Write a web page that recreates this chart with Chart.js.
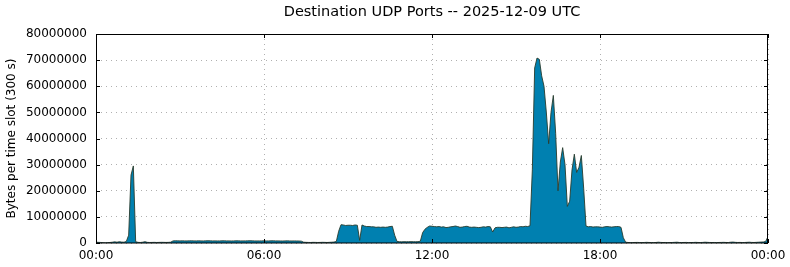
<!DOCTYPE html>
<html>
<head>
<meta charset="utf-8">
<title>Destination UDP Ports</title>
<script src="https://cdn.jsdelivr.net/npm/chart.js@4.4.1/dist/chart.umd.min.js"></script>
<style>
  html, body { margin: 0; padding: 0; background: #fff; }
</style>
</head>
<body>
<canvas id="udpChart" width="790" height="267"></canvas>
<script>
// Bytes per 5-minute slot, 00:00 .. 24:00 (289 points)
const udpBytes = [
  300000, 250000, 200000, 120000, 80000, 150000, 200000, 300000, 450000, 300000,
  500000, 350000, 300000, 600000,
  3000000, 26000000, 29500000, 500000,
  250000, 200000, 300000, 500000, 250000, 200000, 220000, 250000, 200000, 230000,
  260000, 250000, 220000, 240000, 300000,
  800000, 850000, 820000, 800000, 830000, 810000, 790000, 820000, 840000, 800000,
  810000, 830000, 800000, 780000, 820000, 850000, 830000, 800000, 810000, 790000,
  800000, 820000, 840000, 810000, 800000, 780000, 800000, 830000, 820000, 800000,
  790000, 810000, 830000, 850000, 820000, 800000, 780000, 800000, 810000, 830000,
  800000, 790000, 820000, 840000, 810000, 800000, 780000, 760000, 800000, 820000,
  790000, 770000, 800000, 780000, 750000, 700000,
  300000, 250000, 220000, 200000, 250000, 230000, 200000, 220000, 260000, 240000,
  200000, 250000, 300000, 350000,
  600000, 4500000, 7000000, 6900000, 6700000, 6800000, 6800000, 6700000, 6900000, 6800000,
  1000000, 6900000, 6500000, 6300000, 6300000, 6200000, 6200000, 6000000, 6100000, 6000000,
  6100000, 6000000, 6100000, 6300000, 6400000, 3000000, 600000,
  500000, 450000, 500000, 480000, 500000, 520000, 500000, 480000, 500000, 700000,
  4000000, 5300000, 6000000, 6500000,
  6400000, 6300000, 6200000, 6300000, 6100000, 6200000, 5900000, 6000000, 6200000, 6300000,
  6500000, 6300000, 6000000, 6100000, 6300000, 6400000, 6100000, 6000000, 6100000, 6000000,
  5900000, 6000000, 6200000, 6100000, 6300000, 6200000, 4200000, 5800000, 6000000, 6000000,
  5900000, 6000000, 6100000, 5800000, 6000000, 6200000, 6000000, 6100000, 6300000, 6200000,
  6400000, 6300000, 6600000,
  28000000, 67000000, 70800000, 70300000, 64000000, 60000000, 50000000, 38000000, 50000000, 56500000,
  42000000, 20000000, 31000000, 36500000, 30000000, 14000000, 16000000, 28000000, 34000000, 27000000,
  29000000, 33500000, 21000000, 6500000,
  6200000, 6300000, 6100000, 6200000, 6200000, 6100000, 6000000, 6200000, 6300000, 6200000,
  6100000, 6200000, 6300000, 6300000, 6000000,
  2000000, 300000,
  200000, 150000, 180000, 200000, 220000, 180000, 150000, 200000, 250000, 200000,
  180000, 160000, 200000, 300000, 220000, 180000, 200000, 150000, 170000, 200000,
  250000, 300000, 200000, 180000, 200000, 220000, 160000, 180000, 200000, 250000,
  200000, 180000, 220000, 300000, 250000, 200000, 180000, 200000, 160000, 200000,
  220000, 250000, 200000, 180000, 300000, 350000, 250000, 200000, 220000, 180000,
  200000, 250000, 300000, 220000, 200000, 250000, 300000, 350000, 400000, 600000,
  2500000
];

const xTickSlots = [0, 72, 144, 216, 288];
const xTickLabels = ['00:00', '06:00', '12:00', '18:00', '00:00'];
const yTickValues = [0, 10000000, 20000000, 30000000, 40000000, 50000000, 60000000, 70000000, 80000000];

const chartTitle = 'Destination UDP Ports -- 2025-12-09 UTC';
const yAxisTitle = 'Bytes per time slot (300 s)';

const fontFamily = '"DejaVu Sans", Verdana, sans-serif';

// Title centred over the plot area, not over the whole canvas
const plotTitle = {
  id: 'plotTitle',
  afterDraw(chart) {
    const { ctx, chartArea: a } = chart;
    ctx.save();
    ctx.fillStyle = '#000';
    ctx.font = '14.5px ' + fontFamily;
    ctx.textAlign = 'center';
    ctx.textBaseline = 'middle';
    ctx.fillText(chartTitle, (a.left + a.right) / 2, 12);
    ctx.restore();
  }
};

// Black frame round the plot with short inward tick marks on all four sides
const frameTicks = {
  id: 'frameTicks',
  afterDatasetsDraw(chart) {
    const { ctx, chartArea: a, scales } = chart;
    const len = 4;
    ctx.save();
    ctx.strokeStyle = '#000';
    ctx.lineWidth = 1;
    ctx.beginPath();
    scales.y.ticks.forEach(t => {
      const y = Math.round(scales.y.getPixelForValue(t.value)) + 0.5;
      ctx.moveTo(a.left, y); ctx.lineTo(a.left + len, y);
      ctx.moveTo(a.right, y); ctx.lineTo(a.right - len, y);
    });
    scales.x.ticks.forEach(t => {
      const x = Math.round(scales.x.getPixelForValue(t.value)) + 0.5;
      ctx.moveTo(x, a.bottom); ctx.lineTo(x, a.bottom - len);
      ctx.moveTo(x, a.top); ctx.lineTo(x, a.top + len);
    });
    ctx.stroke();
    ctx.strokeRect(Math.round(a.left) + 0.5, Math.round(a.top) + 0.5,
      Math.round(a.right - a.left) - 1, Math.round(a.bottom - a.top) - 0.5);
    ctx.restore();
  }
};

const ctx = document.getElementById('udpChart');
new Chart(ctx, {
  type: 'line',
  data: {
    datasets: [{
      label: 'UDP bytes',
      data: udpBytes.map((v, i) => ({ x: i, y: v })),
      borderColor: 'rgba(40, 60, 45, 0.9)',
      borderWidth: 1,
      backgroundColor: '#0080b0',
      fill: 'origin',
      pointRadius: 0,
      tension: 0
    }]
  },
  options: {
    responsive: false,
    animation: false,
    layout: { padding: { top: 34, right: 22, bottom: 0, left: 0 } },
    plugins: {
      legend: { display: false },
      tooltip: { enabled: false },
      title: { display: false }
    },
    scales: {
      x: {
        type: 'linear',
        min: 0,
        max: 288,
        afterBuildTicks: scale => {
          scale.ticks = xTickSlots.map(v => ({ value: v }));
        },
        afterFit: scale => {
          scale.height = 24;
          scale.paddingLeft = 0;
          scale.paddingRight = 0;
        },
        ticks: {
          color: '#000',
          font: { family: fontFamily, size: 12 },
          padding: 6,
          maxRotation: 0,
          callback: (value) => xTickLabels[xTickSlots.indexOf(value)]
        },
        grid: { color: '#b0b0b0', drawTicks: false },
        border: { display: false, dash: [1, 4] }
      },
      y: {
        min: 0,
        max: 80000000,
        afterBuildTicks: scale => {
          scale.ticks = yTickValues.map(v => ({ value: v }));
        },
        afterFit: scale => { scale.width = 96; },
        ticks: {
          color: '#000',
          font: { family: fontFamily, size: 12 },
          padding: 9,
          callback: value => String(value)
        },
        title: {
          display: true,
          text: yAxisTitle,
          color: '#000',
          font: { family: fontFamily, size: 12 },
          padding: { top: 5, bottom: 0 }
        },
        grid: { color: '#b0b0b0', drawTicks: false },
        border: { display: false, dash: [1, 4] }
      }
    }
  },
  plugins: [frameTicks, plotTitle]
});
</script>
</body>
</html>
